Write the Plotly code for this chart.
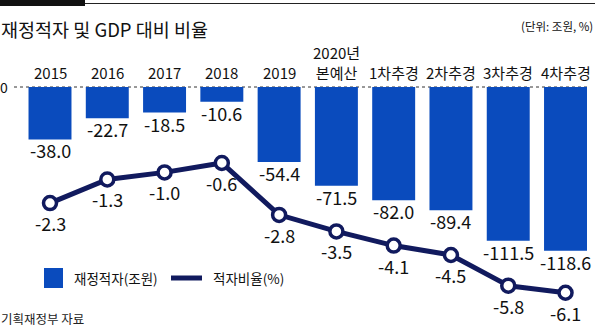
import plotly.graph_objects as go

categories = ["2015", "2016", "2017", "2018", "2019", "2020년<br>본예산", "1차추경", "2차추경", "3차추경", "4차추경"]
deficit = [-38.0, -22.7, -18.5, -10.6, -54.4, -71.5, -82.0, -89.4, -111.5, -118.6]
ratio = [-2.3, -1.3, -1.0, -0.6, -2.8, -3.5, -4.1, -4.5, -5.8, -6.1]

W, H = 602, 328
FONT = "Noto Sans CJK KR"
BLUE = "#0a4bbd"
NAVY = "#111a5e"

def xp(px):
    return px / W

def yp(py):
    return 1 - py / H

x_idx = list(range(len(categories)))

fig = go.Figure()
fig.add_trace(go.Bar(
    x=x_idx, y=deficit, width=0.75,
    marker=dict(color=BLUE, line=dict(width=0)),
    name="재정적자(조원)", showlegend=False, yaxis="y",
))
fig.add_trace(go.Scatter(
    x=x_idx, y=ratio, mode="lines+markers",
    line=dict(color=NAVY, width=5),
    marker=dict(size=13, color="white", line=dict(color=NAVY, width=3.5)),
    name="적자비율(%)", showlegend=False, yaxis="y2", cliponaxis=False,
))

# scales: bars 0 at py=87, 1.38 px/unit; line 0 at py=148.8, 23.6 px/unit
b0, bs = 87.0, 1.38
l0, ls = 148.8, 23.6
x0c, xs = 50.0, 57.28

fig.update_layout(
    width=W, height=H, margin=dict(l=0, r=0, t=0, b=0),
    paper_bgcolor="white", plot_bgcolor="white",
    xaxis=dict(range=[-x0c / xs, (W - x0c) / xs], visible=False, fixedrange=True),
    yaxis=dict(range=[-(H - b0) / bs, b0 / bs], visible=False),
    yaxis2=dict(range=[-(H - l0) / ls, l0 / ls], visible=False, overlaying="y"),
    showlegend=False,
    font=dict(family=FONT, color="#111"),
)

shapes = [
    dict(type="rect", xref="paper", yref="paper", x0=xp(0), x1=xp(85), y0=yp(0), y1=yp(6),
         fillcolor="#111", line=dict(width=0)),
    dict(type="line", xref="paper", yref="paper", x0=xp(85), x1=xp(595), y0=yp(3.5), y1=yp(3.5),
         line=dict(color="#222", width=1.2)),
    dict(type="line", xref="paper", yref="y", x0=xp(14), x1=xp(590), y0=0, y1=0,
         line=dict(color="#333", width=1, dash="dot"), layer="below"),
    # legend
    dict(type="rect", xref="paper", yref="paper", x0=xp(44), x1=xp(63), y0=yp(268), y1=yp(288),
         fillcolor=BLUE, line=dict(width=0)),
    dict(type="line", xref="paper", yref="paper", x0=xp(171), x1=xp(202), y0=yp(278), y1=yp(278),
         line=dict(color=NAVY, width=5)),
]
fig.update_layout(shapes=shapes)

ann = [
    dict(text="재정적자 및 GDP 대비 비율", x=xp(-1), y=yp(29), xref="paper", yref="paper",
         xanchor="left", yanchor="middle", showarrow=False,
         font=dict(family=FONT, size=18.5, color="#111")),
    dict(text="(단위: 조원, %)", x=xp(595), y=yp(26), xref="paper", yref="paper",
         xanchor="right", yanchor="middle", showarrow=False,
         font=dict(family=FONT, size=11.5, color="#111")),
    dict(text="0", x=xp(-2), y=0, xref="paper", yref="y",
         xanchor="left", yanchor="middle", showarrow=False,
         font=dict(family=FONT, size=14, color="#111")),
    dict(text="재정적자(조원)", x=xp(72), y=yp(278), xref="paper", yref="paper",
         xanchor="left", yanchor="middle", showarrow=False,
         font=dict(family=FONT, size=13.5, color="#111")),
    dict(text="적자비율(%)", x=xp(211), y=yp(278), xref="paper", yref="paper",
         xanchor="left", yanchor="middle", showarrow=False,
         font=dict(family=FONT, size=13.5, color="#111")),
    dict(text="기획재정부 자료", x=xp(-1), y=yp(318), xref="paper", yref="paper",
         xanchor="left", yanchor="middle", showarrow=False,
         font=dict(family=FONT, size=12.5, color="#222")),
]
for i, c in enumerate(categories):
    ann.append(dict(text=c, x=i, y=yp(85), xref="x", yref="paper",
                    xanchor="center", yanchor="bottom", showarrow=False,
                    font=dict(family=FONT, size=15, color="#111")))
for i, v in enumerate(deficit):
    ann.append(dict(text=f"{v:.1f}", x=i, y=v, xref="x", yref="y",
                    xanchor="center", yanchor="middle", yshift=-11, showarrow=False,
                    font=dict(family=FONT, size=18, color="#111")))
for i, v in enumerate(ratio):
    ann.append(dict(text=f"{v:.1f}", x=i, y=v, xref="x", yref="y2",
                    xanchor="center", yanchor="middle", yshift=-20, showarrow=False,
                    font=dict(family=FONT, size=18, color="#111")))
fig.update_layout(annotations=ann)

fig.write_html("out.html")
